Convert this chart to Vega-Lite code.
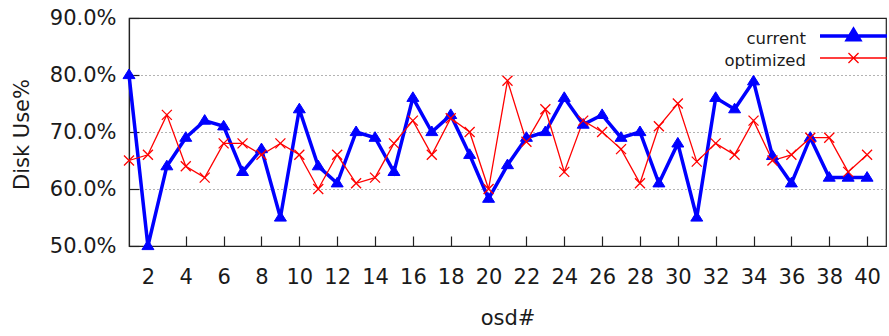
{
  "$schema": "https://vega.github.io/schema/vega-lite/v6.json",
  "width": 757,
  "height": 228,
  "autosize": {"type": "none"},
  "padding": {"left": 129, "top": 18, "right": 3, "bottom": 90},
  "background": "white",
  "config": {
    "font": "DejaVu Sans",
    "view": {"stroke": "#222", "strokeWidth": 1.2}
  },
  "data": {
    "values": [
      {"osd": 1, "series": "current", "use": 80}, {"osd": 2, "series": "current", "use": 50},
      {"osd": 3, "series": "current", "use": 64}, {"osd": 4, "series": "current", "use": 69},
      {"osd": 5, "series": "current", "use": 72}, {"osd": 6, "series": "current", "use": 71},
      {"osd": 7, "series": "current", "use": 63}, {"osd": 8, "series": "current", "use": 67},
      {"osd": 9, "series": "current", "use": 55}, {"osd": 10, "series": "current", "use": 74},
      {"osd": 11, "series": "current", "use": 64}, {"osd": 12, "series": "current", "use": 61},
      {"osd": 13, "series": "current", "use": 70}, {"osd": 14, "series": "current", "use": 69},
      {"osd": 15, "series": "current", "use": 63}, {"osd": 16, "series": "current", "use": 76},
      {"osd": 17, "series": "current", "use": 70}, {"osd": 18, "series": "current", "use": 73},
      {"osd": 19, "series": "current", "use": 66}, {"osd": 20, "series": "current", "use": 58.3},
      {"osd": 21, "series": "current", "use": 64.2}, {"osd": 22, "series": "current", "use": 69},
      {"osd": 23, "series": "current", "use": 70}, {"osd": 24, "series": "current", "use": 76},
      {"osd": 25, "series": "current", "use": 71.3}, {"osd": 26, "series": "current", "use": 73},
      {"osd": 27, "series": "current", "use": 69}, {"osd": 28, "series": "current", "use": 70},
      {"osd": 29, "series": "current", "use": 61}, {"osd": 30, "series": "current", "use": 68},
      {"osd": 31, "series": "current", "use": 55}, {"osd": 32, "series": "current", "use": 76},
      {"osd": 33, "series": "current", "use": 74}, {"osd": 34, "series": "current", "use": 78.9},
      {"osd": 35, "series": "current", "use": 65.8}, {"osd": 36, "series": "current", "use": 61},
      {"osd": 37, "series": "current", "use": 69}, {"osd": 38, "series": "current", "use": 62},
      {"osd": 39, "series": "current", "use": 62}, {"osd": 40, "series": "current", "use": 62},
      {"osd": 1, "series": "optimized", "use": 65}, {"osd": 2, "series": "optimized", "use": 66},
      {"osd": 3, "series": "optimized", "use": 73}, {"osd": 4, "series": "optimized", "use": 64},
      {"osd": 5, "series": "optimized", "use": 62}, {"osd": 6, "series": "optimized", "use": 68},
      {"osd": 7, "series": "optimized", "use": 68}, {"osd": 8, "series": "optimized", "use": 66},
      {"osd": 9, "series": "optimized", "use": 68}, {"osd": 10, "series": "optimized", "use": 66},
      {"osd": 11, "series": "optimized", "use": 60}, {"osd": 12, "series": "optimized", "use": 66},
      {"osd": 13, "series": "optimized", "use": 61}, {"osd": 14, "series": "optimized", "use": 62},
      {"osd": 15, "series": "optimized", "use": 68}, {"osd": 16, "series": "optimized", "use": 72},
      {"osd": 17, "series": "optimized", "use": 66}, {"osd": 18, "series": "optimized", "use": 72.4},
      {"osd": 19, "series": "optimized", "use": 70}, {"osd": 20, "series": "optimized", "use": 60},
      {"osd": 21, "series": "optimized", "use": 79}, {"osd": 22, "series": "optimized", "use": 68.3},
      {"osd": 23, "series": "optimized", "use": 74}, {"osd": 24, "series": "optimized", "use": 63},
      {"osd": 25, "series": "optimized", "use": 72}, {"osd": 26, "series": "optimized", "use": 70},
      {"osd": 27, "series": "optimized", "use": 67}, {"osd": 28, "series": "optimized", "use": 61},
      {"osd": 29, "series": "optimized", "use": 71}, {"osd": 30, "series": "optimized", "use": 75},
      {"osd": 31, "series": "optimized", "use": 64.8}, {"osd": 32, "series": "optimized", "use": 68},
      {"osd": 33, "series": "optimized", "use": 66}, {"osd": 34, "series": "optimized", "use": 72},
      {"osd": 35, "series": "optimized", "use": 65}, {"osd": 36, "series": "optimized", "use": 66},
      {"osd": 37, "series": "optimized", "use": 69}, {"osd": 38, "series": "optimized", "use": 69},
      {"osd": 39, "series": "optimized", "use": 63}, {"osd": 40, "series": "optimized", "use": 66}
    ]
  },
  "encoding": {
    "x": {
      "field": "osd", "type": "quantitative",
      "scale": {"domain": [1, 41], "nice": false, "zero": false},
      "axis": {
        "title": "osd#", "values": [2,4,6,8,10,12,14,16,18,20,22,24,26,28,30,32,34,36,38,40],
        "grid": false, "tickSize": -10, "tickColor": "#222", "tickWidth": 1.2,
        "domainColor": "#222", "domainWidth": 1.2,
        "labelPadding": 47, "labelBaseline": "alphabetic", "labelFontSize": 21, "labelColor": "#1a1a1a", "labelFont": "DejaVu Sans",
        "labelFlush": false, "labelOverlap": false,
        "titleFontSize": 21, "titleFontWeight": "normal", "titleColor": "#1a1a1a", "titleFont": "DejaVu Sans",
        "titleY": 72, "titleBaseline": "middle"
      }
    },
    "y": {
      "field": "use", "type": "quantitative",
      "scale": {"domain": [50, 90], "nice": false, "zero": false},
      "axis": {
        "title": "Disk Use%", "values": [50, 60, 70, 80, 90],
        "labelExpr": "format(datum.value, '.1f') + '%'",
        "grid": true, "gridDash": [1, 3], "gridColor": "#666", "gridWidth": 1,
        "gridOpacity": {"condition": {"test": "datum.value <= 50 || datum.value >= 90", "value": 0}, "value": 1},
        "tickSize": -10, "tickColor": "#222", "tickWidth": 1.2,
        "domainColor": "#222", "domainWidth": 1.2,
        "labelPadding": 23, "labelFontSize": 21, "labelColor": "#1a1a1a", "labelFont": "DejaVu Sans",
        "labelFlush": false, "labelOverlap": false,
        "titleFontSize": 21, "titleFontWeight": "normal", "titleColor": "#1a1a1a", "titleFont": "DejaVu Sans",
        "titleX": -107, "titleY": 116, "titleAngle": -90, "titleAlign": "center", "titleBaseline": "middle"
      }
    }
  },
  "layer": [
    {
      "mark": {"type": "line", "clip": false},
      "encoding": {
        "color": {
          "field": "series", "type": "nominal",
          "scale": {"domain": ["current", "optimized"], "range": ["#0000ff", "#ff0000"]},
          "legend": {
            "orient": "none", "legendX": 691, "legendY": 8, "title": null,
            "padding": 0, "rowPadding": -2,
            "labelFontSize": 16.5, "labelColor": "#1a1a1a", "labelFont": "DejaVu Sans",
            "encode": {
              "symbols": {"update": {
                "shape": {"signal": "datum.value === 'current' ? 'M-1,0H1M-0.18,0.11L0,-0.19L0.18,0.11Z' : 'M-1,0H1M-0.15,-0.15L0.15,0.15M-0.15,0.15L0.15,-0.15'"},
                "size": {"value": 4489},
                "strokeWidth": {"signal": "datum.value === 'current' ? 3.5 : 1.3"},
                "fill": {"signal": "datum.value === 'current' ? '#0000ff' : 'transparent'"},
                "stroke": {"signal": "datum.value === 'current' ? '#0000ff' : '#ff0000'"},
                "opacity": {"value": 1},
                "x": {"value": 33.5},
                "y": {"value": 10}
              }},
              "labels": {"update": {
                "x": {"value": -14},
                "y": {"value": 18},
                "align": {"value": "right"},
                "baseline": {"value": "alphabetic"}
              }}
            }
          }
        },
        "strokeWidth": {
          "field": "series", "type": "nominal",
          "scale": {"domain": ["current", "optimized"], "range": [3.5, 1.3]},
          "legend": null
        }
      }
    },
    {
      "transform": [{"filter": "datum.series === 'current'"}],
      "mark": {"type": "point", "shape": "M-1,0.6L0,-1L1,0.6Z", "size": 144, "filled": true, "fill": "#0000ff", "stroke": "#0000ff", "strokeWidth": 1, "opacity": 1, "clip": false}
    },
    {
      "transform": [{"filter": "datum.series === 'optimized'"}],
      "mark": {"type": "point", "shape": "M-1,-1L1,1M-1,1L1,-1", "size": 100, "filled": false, "stroke": "#ff0000", "strokeWidth": 1.3, "opacity": 1, "clip": false}
    }
  ]
}
